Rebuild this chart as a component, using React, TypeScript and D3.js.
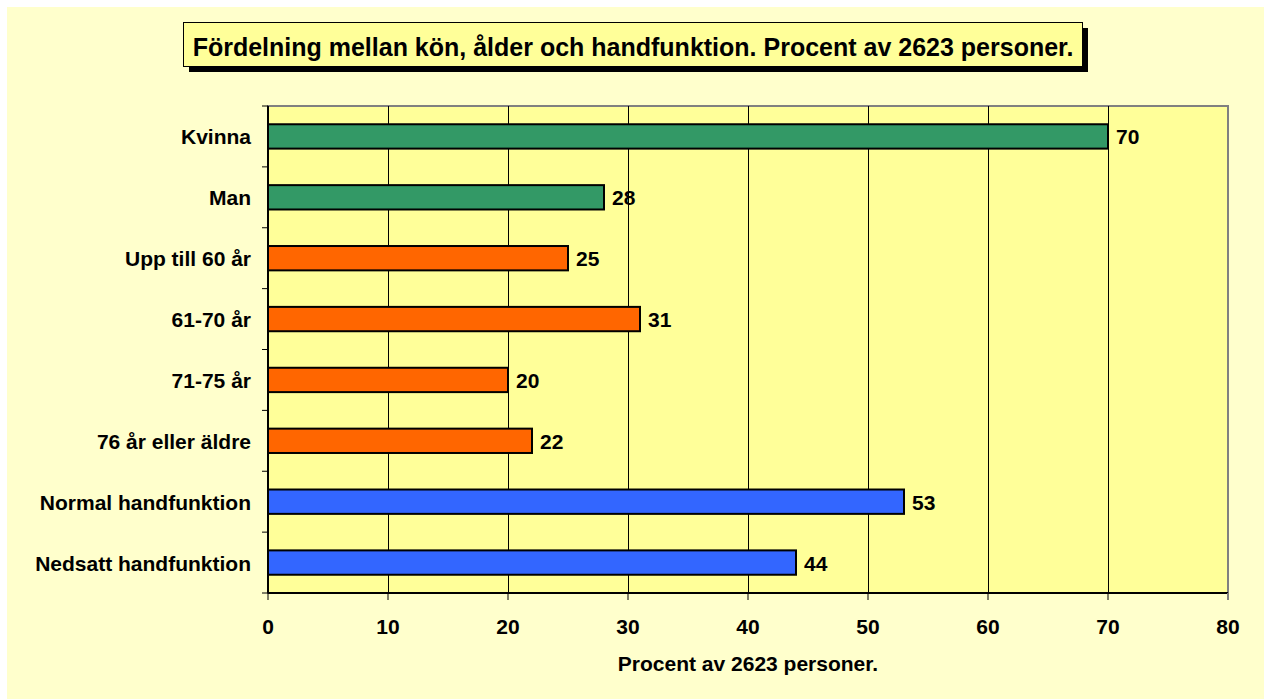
import React, { useRef, useEffect } from "react";
import * as d3 from "d3";

const categories = [
  "Kvinna",
  "Man",
  "Upp till 60 år",
  "61-70 år",
  "71-75 år",
  "76 år eller äldre",
  "Normal handfunktion",
  "Nedsatt handfunktion",
];
const values = [70, 28, 25, 31, 20, 22, 53, 44];
const groups = ["kon", "kon", "alder", "alder", "alder", "alder", "hand", "hand"];
const xTicks = [0, 10, 20, 30, 40, 50, 60, 70, 80];

const groupColor: Record<string, string> = {
  kon: "#339966",
  alder: "#FF6600",
  hand: "#3366FF",
};

const W = 1268;
const H = 699;
const FONT = "'Liberation Sans', Arial, sans-serif";
const FS = "21px";

const App = () => {
  const ref = useRef<SVGSVGElement>(null);

  useEffect(() => {
    const svg = d3.select(ref.current);
    svg.selectAll("*").remove();

    const plot = { left: 268, right: 1228, top: 106, bottom: 593 };

    // background
    svg.append("rect").attr("x", 7).attr("y", 7).attr("width", 1257).attr("height", H)
      .attr("fill", "#FFFFCC");

    // title box with shadow
    svg.append("rect").attr("x", 189).attr("y", 28).attr("width", 899).attr("height", 44)
      .attr("fill", "#000");
    svg.append("rect").attr("x", 183.5).attr("y", 22.5).attr("width", 899).attr("height", 44)
      .attr("fill", "#FFFF99").attr("stroke", "#000").attr("stroke-width", 1);
    svg.append("text").attr("x", 633).attr("y", 56)
      .attr("text-anchor", "middle").attr("font-family", FONT).attr("font-weight", "bold")
      .attr("font-size", "25px").attr("fill", "#000")
      .text("Fördelning mellan kön, ålder och handfunktion. Procent av 2623 personer.");

    const x = d3.scaleLinear().domain([0, 80]).range([plot.left, plot.right]);
    const y = d3.scaleBand().domain(categories).range([plot.top, plot.bottom]).padding(0);

    // plot area
    svg.append("rect").attr("x", plot.left).attr("y", plot.top)
      .attr("width", plot.right - plot.left).attr("height", plot.bottom - plot.top)
      .attr("fill", "#FFFF99").attr("stroke", "#808080").attr("stroke-width", 2);

    // gridlines
    svg.append("g").selectAll("line").data(xTicks.slice(1, -1)).enter().append("line")
      .attr("x1", (d) => x(d) + 0.5).attr("x2", (d) => x(d) + 0.5)
      .attr("y1", plot.top).attr("y2", plot.bottom)
      .attr("stroke", "#000").attr("stroke-width", 1);

    // bars
    const bh = y.bandwidth() * 0.4;
    svg.append("g").selectAll("rect").data(categories).enter().append("rect")
      .attr("x", x(0))
      .attr("y", (d) => (y(d) as number) + y.bandwidth() / 2 - bh / 2)
      .attr("width", (d, i) => x(values[i]) - x(0))
      .attr("height", bh)
      .attr("fill", (d, i) => groupColor[groups[i]])
      .attr("stroke", "#000").attr("stroke-width", 2);

    // value labels
    svg.append("g").selectAll("text").data(categories).enter().append("text")
      .attr("x", (d, i) => x(values[i]) + 8)
      .attr("y", (d) => (y(d) as number) + y.bandwidth() / 2 + 8)
      .attr("font-family", FONT).attr("font-weight", "bold").attr("font-size", FS)
      .attr("fill", "#000")
      .text((d, i) => values[i]);

    // left axis
    const left = svg.append("g");
    left.append("line").attr("x1", plot.left).attr("x2", plot.left)
      .attr("y1", plot.top).attr("y2", plot.bottom).attr("stroke", "#000").attr("stroke-width", 2);
    const bounds = categories.map((c) => y(c) as number).concat([plot.bottom]);
    left.selectAll("line.tick").data(bounds).enter().append("line")
      .attr("class", "tick")
      .attr("x1", plot.left - 6).attr("x2", plot.left)
      .attr("y1", (d) => d).attr("y2", (d) => d)
      .attr("stroke", "#000").attr("stroke-width", 1);
    left.selectAll("text").data(categories).enter().append("text")
      .attr("x", 251)
      .attr("y", (d) => (y(d) as number) + y.bandwidth() / 2 + 8)
      .attr("text-anchor", "end")
      .attr("font-family", FONT).attr("font-weight", "bold").attr("font-size", FS)
      .attr("fill", "#000")
      .text((d) => d);

    // bottom axis
    const bottom = svg.append("g");
    bottom.append("line").attr("x1", plot.left).attr("x2", plot.right)
      .attr("y1", plot.bottom).attr("y2", plot.bottom).attr("stroke", "#000").attr("stroke-width", 2);
    bottom.selectAll("line.tick").data(xTicks).enter().append("line")
      .attr("class", "tick")
      .attr("x1", (d) => x(d)).attr("x2", (d) => x(d))
      .attr("y1", plot.bottom).attr("y2", plot.bottom + 7)
      .attr("stroke", (d) => (d === 80 ? "#808080" : "#000")).attr("stroke-width", (d) => (d === 80 ? 2 : 1));
    bottom.selectAll("text").data(xTicks).enter().append("text")
      .attr("x", (d) => x(d)).attr("y", 634)
      .attr("text-anchor", "middle")
      .attr("font-family", FONT).attr("font-weight", "bold").attr("font-size", FS)
      .attr("fill", "#000")
      .text((d) => d);

    svg.append("text").attr("x", 748).attr("y", 671)
      .attr("text-anchor", "middle")
      .attr("font-family", FONT).attr("font-weight", "bold").attr("font-size", FS)
      .attr("fill", "#000")
      .text("Procent av 2623 personer.");
  }, []);

  return (
    <svg
      ref={ref}
      width={W}
      height={H}
      style={{ position: "absolute", left: 0, top: 0, background: "#fff" }}
    ></svg>
  );
};

export default App;
